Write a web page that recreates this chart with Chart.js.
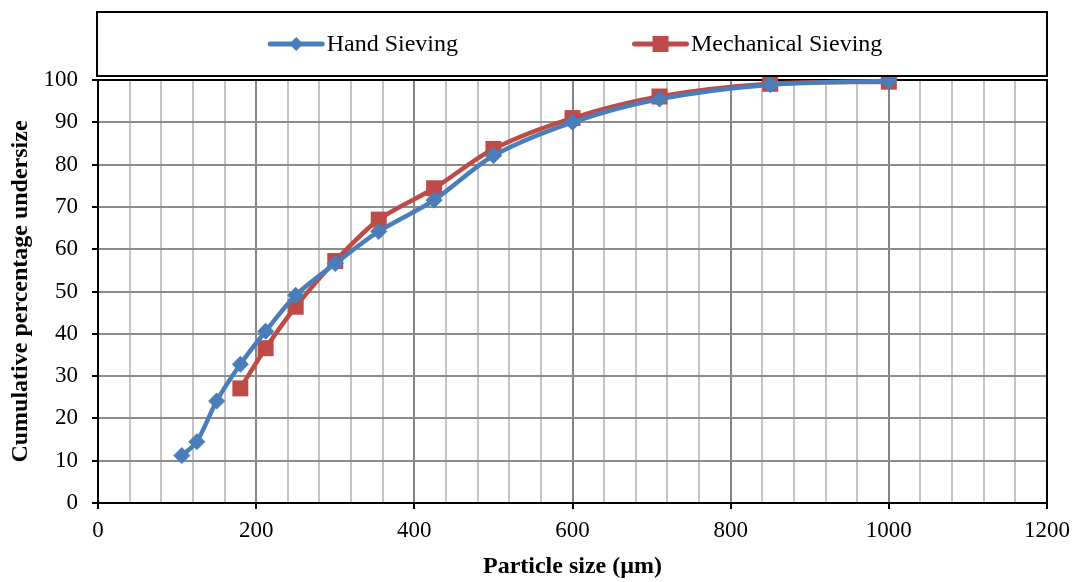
<!DOCTYPE html>
<html>
<head>
<meta charset="utf-8">
<script src="https://cdn.jsdelivr.net/npm/chart.js@4/dist/chart.umd.min.js"></script>
<style>
  html, body { margin: 0; padding: 0; background: #ffffff; }
  #wrap { width: 1078px; height: 582px; position: relative; }
</style>
</head>
<body>
<div id="wrap"><canvas id="c" width="1078" height="582"></canvas></div>
<script>
// ---- data ----
const seriesNames = ["Hand Sieving", "Mechanical Sieving"];
const handSize = [106, 125, 150, 180, 212, 250, 300, 355, 425, 500, 600, 710, 850, 1000];
const handPct  = [11.2, 14.5, 24.1, 32.8, 40.6, 49.1, 56.6, 64.2, 71.6, 82.1, 90.0, 95.5, 98.9, 99.8];
const mechSize = [180, 212, 250, 300, 355, 425, 500, 600, 710, 850, 1000];
const mechPct  = [27.1, 36.6, 46.4, 57.2, 67.0, 74.4, 83.7, 91.0, 96.1, 99.1, 99.6];
const xTitle = "Particle size (\u00b5m)";
const yTitle = "Cumulative percentage undersize";

const BLUE = "#4A7EBB";
const RED = "#BE4B48";
const FONT = '"Liberation Serif", "Times New Roman", serif';

Chart.defaults.font.family = FONT;
Chart.defaults.color = "#000000";

const toPoints = (xs, ys) => xs.map((x, i) => ({ x: x, y: ys[i] }));

const frameAndLegend = {
  id: "frameAndLegend",
  beforeDatasetsDraw(chart) {
    const ctx = chart.ctx, a = chart.chartArea;
    ctx.save();
    ctx.strokeStyle = "#000000";
    ctx.lineWidth = 2;
    ctx.strokeRect(a.left, a.top, a.right - a.left, a.bottom - a.top);
    ctx.restore();
  },
  afterDraw(chart) {
    const ctx = chart.ctx, a = chart.chartArea;
    const box = { l: a.left - 1, r: a.right, t: 12, b: a.top - 4 };
    ctx.save();
    ctx.fillStyle = "#ffffff";
    ctx.fillRect(box.l, box.t, box.r - box.l, box.b - box.t);
    ctx.strokeStyle = "#000000";
    ctx.lineWidth = 2;
    ctx.strokeRect(box.l, box.t, box.r - box.l, box.b - box.t);

    ctx.font = '24px ' + FONT;
    ctx.textBaseline = "middle";
    ctx.textAlign = "left";
    const lineLen = 57, gapText = 2, gapItems = 174;
    const w1 = lineLen + gapText + ctx.measureText(seriesNames[0]).width;
    const w2 = lineLen + gapText + ctx.measureText(seriesNames[1]).width;
    const total = w1 + gapItems + w2;
    const cy = (box.t + box.b) / 2;
    let x = (box.l + box.r) / 2 + 3 - total / 2;
    const items = [
      { name: seriesNames[0], color: BLUE, marker: "diamond" },
      { name: seriesNames[1], color: RED, marker: "square" }
    ];
    items.forEach((it, i) => {
      ctx.strokeStyle = it.color;
      ctx.lineWidth = 5;
      ctx.lineCap = "round";
      ctx.beginPath();
      ctx.moveTo(x + 2.5, cy);
      ctx.lineTo(x + lineLen - 2.5, cy);
      ctx.stroke();
      const mx = x + lineLen / 2;
      ctx.fillStyle = it.color;
      ctx.beginPath();
      if (it.marker === "diamond") {
        ctx.moveTo(mx - 7, cy); ctx.lineTo(mx, cy - 7);
        ctx.lineTo(mx + 7, cy); ctx.lineTo(mx, cy + 7);
        ctx.closePath();
      } else {
        ctx.rect(mx - 8, cy - 8, 16, 16);
      }
      ctx.fill();
      ctx.fillStyle = "#000000";
      ctx.fillText(it.name, x + lineLen + gapText, cy + 1);
      x += (i === 0 ? w1 : w2) + gapItems;
    });
    ctx.restore();
  }
};

new Chart(document.getElementById("c"), {
  type: "line",
  data: {
    datasets: [
      {
        label: seriesNames[0],
        data: toPoints(handSize, handPct),
        borderColor: BLUE,
        backgroundColor: BLUE,
        borderWidth: 4.5,
        pointStyle: "rectRot",
        pointRadius: 8,
        pointBorderWidth: 1,
        pointBorderColor: BLUE,
        pointBackgroundColor: BLUE,
        tension: 0.3,
        clip: false
      },
      {
        label: seriesNames[1],
        data: toPoints(mechSize, mechPct),
        borderColor: RED,
        backgroundColor: RED,
        borderWidth: 4.5,
        pointStyle: "rect",
        pointRadius: 11.3,
        pointBorderWidth: 0,
        pointBorderColor: RED,
        pointBackgroundColor: RED,
        tension: 0.3,
        clip: false
      }
    ]
  },
  options: {
    responsive: false,
    animation: false,
    devicePixelRatio: 1,
    layout: { padding: { top: 80, right: 30, bottom: 0, left: 0 } },
    plugins: { legend: { display: false }, tooltip: { enabled: false } },
    scales: {
      x: {
        type: "linear",
        min: 0,
        max: 1200,
        afterFit: s => { s.height = 79; },
        ticks: {
          stepSize: 40,
          autoSkip: false,
          maxRotation: 0,
          padding: 8,
          font: { size: 23 },
          color: "#000000",
          callback: v => (v % 200 === 0 ? String(v) : "")
        },
        grid: {
          drawTicks: true,
          tickLength: 6,
          lineWidth: 2,
          color: ctx => (ctx.tick && ctx.tick.value % 200 === 0 ? "#868686" : "#c3c3c3"),
          tickColor: ctx => (ctx.tick && ctx.tick.value % 200 === 0 ? "#000000" : "rgba(0,0,0,0)")
        },
        border: { display: true, color: "#000000", width: 2 },
        title: {
          display: true,
          text: xTitle,
          font: { size: 24, weight: "bold" },
          color: "#000000",
          padding: { top: 0, bottom: 1 }
        }
      },
      y: {
        min: 0,
        max: 100,
        afterFit: s => { s.width = 98; },
        ticks: {
          stepSize: 10,
          padding: 14,
          font: { size: 23 },
          color: "#000000"
        },
        grid: {
          drawTicks: true,
          tickLength: 6,
          lineWidth: 2,
          color: "#8c8c8c",
          tickColor: "#000000"
        },
        border: { display: true, color: "#000000", width: 2 },
        title: {
          display: true,
          text: yTitle,
          font: { size: 24, weight: "bold" },
          color: "#000000",
          padding: { top: 6, bottom: 0 }
        }
      }
    }
  },
  plugins: [frameAndLegend]
});
</script>
</body>
</html>
